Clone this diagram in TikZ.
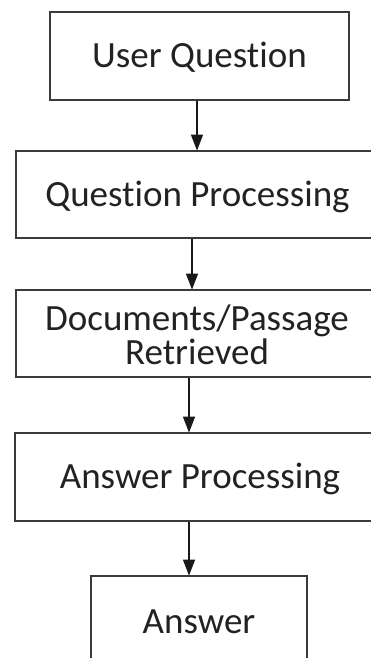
\documentclass[tikz,border=0pt]{standalone}
\usepackage{fontspec}
\setmainfont{Carlito}[Ligatures={NoCommon}]
\usetikzlibrary{arrows.meta}
\definecolor{boxline}{HTML}{3A3A3A}
\definecolor{txt}{HTML}{222222}
\begin{document}
\begin{tikzpicture}[x=1pt,y=-1pt,
  flowbox/.style={draw=boxline, line width=1.8pt, fill=white, inner sep=0pt,
    minimum height=87pt, text=txt, align=center,
    font=\fontsize{37}{34}\selectfont, text height=29.6pt, text depth=5.8pt},
  flowarrow/.style={draw=black!90, line width=1.4pt,
    -{Triangle[length=16pt,width=12pt]}, shorten >=-0.5pt}]
\useasboundingbox (0,0) rectangle (371,658);
\fill[white] (0,0) rectangle (371,658);
\clip (0,0) rectangle (371,658);
\node[flowbox, minimum width=299pt, minimum height=88pt] (b1) at (199.5,56) {User Question};
\node[flowbox, minimum width=363pt] (b2) at (197.5,194.5) {Question Processing};
\node[flowbox, minimum width=362pt, text height=66.8pt] (b3) at (197,333.5) {Documents/Passage\\Retrieved};
\node[flowbox, minimum width=370pt, minimum height=88pt] (b4) at (200,477) {Answer Processing};
\node[flowbox, minimum width=216pt, minimum height=92pt] (b5) at (199,622) {Answer};
\draw[flowarrow] (b1.south -| 197,0) -- (b2.north -| 197,0);
\draw[flowarrow] (b2.south -| 192,0) -- (b3.north -| 192,0);
\draw[flowarrow] (b3.south -| 189,0) -- (b4.north -| 189,0);
\draw[flowarrow] (b4.south -| 189,0) -- (b5.north -| 189,0);
\end{tikzpicture}
\end{document}
